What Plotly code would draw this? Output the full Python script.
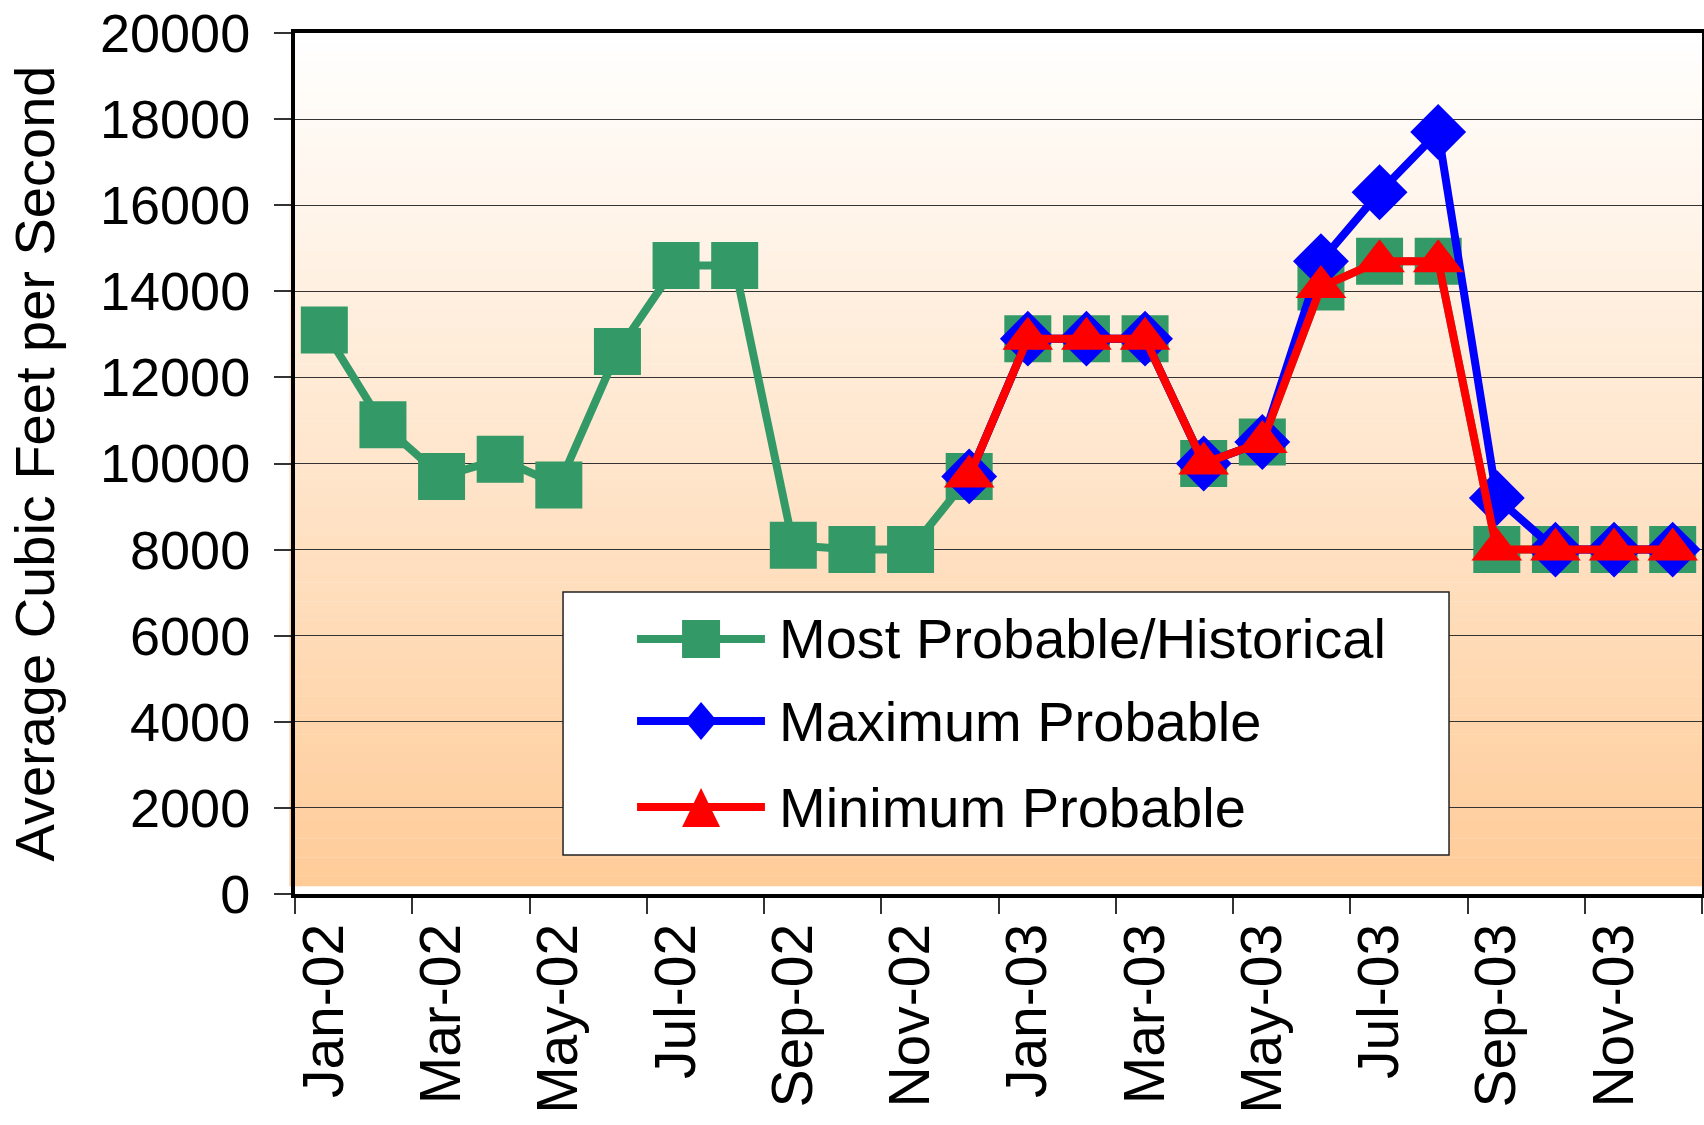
import plotly.graph_objects as go

# ---------------- data ----------------
months = ["Jan-02", "Feb-02", "Mar-02", "Apr-02", "May-02", "Jun-02",
          "Jul-02", "Aug-02", "Sep-02", "Oct-02", "Nov-02", "Dec-02",
          "Jan-03", "Feb-03", "Mar-03", "Apr-03", "May-03", "Jun-03",
          "Jul-03", "Aug-03", "Sep-03", "Oct-03", "Nov-03", "Dec-03"]

most_probable = [13100, 10900, 9700, 10100, 9500, 12600,
                 14600, 14600, 8100, 8000, 8000, 9700,
                 12900, 12900, 12900, 10000, 10500, 14100,
                 14700, 14700, 8000, 8000, 8000, 8000]

forecast_months = ["Dec-02", "Jan-03", "Feb-03", "Mar-03", "Apr-03", "May-03",
                   "Jun-03", "Jul-03", "Aug-03", "Sep-03", "Oct-03", "Nov-03", "Dec-03"]

maximum_probable = [9700, 12900, 12900, 12900, 10000, 10500,
                    14700, 16300, 17700, 9200, 8000, 8000, 8000]

minimum_probable = [9700, 12900, 12900, 12900, 10000, 10500,
                    14100, 14700, 14700, 8000, 8000, 8000, 8000]

series_names = ["Most Probable/Historical", "Maximum Probable", "Minimum Probable"]
y_ticks = list(range(0, 20001, 2000))
x_tick_labels = months[::2]

# category positions (index of each month on the category axis)
pos_all = [months.index(m) for m in months]
pos_fc = [months.index(m) for m in forecast_months]
pos_ticks = [months.index(m) for m in x_tick_labels]

# ---------------- style ----------------
GREEN = "#339966"
BLUE = "#0000FF"
RED = "#FF0000"
FONT = "Liberation Sans, Arial, sans-serif"

fig = go.Figure()

fig.add_trace(go.Scatter(
    x=pos_all, y=most_probable, name=series_names[0], mode="lines+markers",
    text=months, hovertemplate="%{text}: %{y}<extra>" + series_names[0] + "</extra>",
    line=dict(color=GREEN, width=8),
    marker=dict(symbol="square", size=47, color=GREEN, line=dict(width=0)),
    showlegend=False, cliponaxis=False))

fig.add_trace(go.Scatter(
    x=pos_fc, y=maximum_probable, name=series_names[1], mode="lines+markers",
    text=forecast_months, hovertemplate="%{text}: %{y}<extra>" + series_names[1] + "</extra>",
    line=dict(color=BLUE, width=8),
    marker=dict(symbol="diamond", size=43, color=BLUE, line=dict(width=0)),
    showlegend=False, cliponaxis=False))

fig.add_trace(go.Scatter(
    x=pos_fc, y=minimum_probable, name=series_names[2], mode="lines+markers",
    text=forecast_months, hovertemplate="%{text}: %{y}<extra>" + series_names[2] + "</extra>",
    line=dict(color=RED, width=8),
    marker=dict(symbol="triangle-up", size=44, color=RED, line=dict(width=0)),
    showlegend=False, cliponaxis=False))

shapes = []

# gradient plot background (white at top -> light orange at bottom)
N = 90
ybot = 0.009
for i in range(N):
    t = i / (N - 1)
    g = round(204 + (255 - 204) * t)
    b = round(153 + (255 - 153) * t)
    shapes.append(dict(
        type="rect", xref="paper", yref="paper", layer="below",
        x0=-0.004, x1=1.0,
        y0=ybot + (1 - ybot) * i / N, y1=ybot + (1 - ybot) * (i + 1) / N + 0.0005,
        fillcolor=f"rgb(255,{g},{b})", line=dict(width=0)))

# legend box drawn by hand (symbol sizes like the original)
LX0, LX1, LY0, LY1 = 0.1905, 0.8202, 0.0453, 0.3508
shapes.append(dict(type="rect", xref="paper", yref="paper", layer="above",
                   x0=LX0, x1=LX1, y0=LY0, y1=LY1,
                   fillcolor="white", line=dict(color="#222", width=1.5)))

row_y = [0.2962, 0.2009, 0.1010]
line_x0, line_x1, mark_x, text_x = 0.2431, 0.3340, 0.2886, 0.3426
colors = [GREEN, BLUE, RED]
paths = [
    "M -19 -19 L 19 -19 L 19 19 L -19 19 Z",
    "M 0 -19 L 16 0 L 0 19 L -16 0 Z",
    "M -19 -20 L 19 -20 L 0 19 Z",
]
annotations = []
for yy, col, pth, nm in zip(row_y, colors, paths, series_names):
    shapes.append(dict(type="line", xref="paper", yref="paper", layer="above",
                       x0=line_x0, x1=line_x1, y0=yy, y1=yy,
                       line=dict(color=col, width=8)))
    shapes.append(dict(type="path", xref="paper", yref="paper", layer="above",
                       xsizemode="pixel", ysizemode="pixel",
                       xanchor=mark_x, yanchor=yy, path=pth,
                       fillcolor=col, line=dict(width=0)))
    annotations.append(dict(xref="paper", yref="paper", x=text_x, y=yy,
                            xanchor="left", yanchor="middle", showarrow=False,
                            text=nm, font=dict(family=FONT, size=56, color="black")))

fig.update_layout(
    width=1704, height=1125,
    margin=dict(l=295, r=2, t=33, b=231),
    paper_bgcolor="white", plot_bgcolor="rgba(0,0,0,0)",
    font=dict(family=FONT, size=56, color="black"),
    shapes=shapes, annotations=annotations,
    showlegend=False,
    xaxis=dict(
        range=[-0.5, len(months) - 0.5],
        tickmode="array", tickvals=pos_ticks, ticktext=x_tick_labels,
        ticks="outside", ticklen=16, tickwidth=2, tickcolor="rgba(0,0,0,0)",
        ticklabelstandoff=-13,
        minor=dict(tickmode="linear", tick0=-0.5, dtick=2, ticks="outside",
                   ticklen=16, tickwidth=2, tickcolor="#333", showgrid=False),
        tickangle=-90, tickfont=dict(family=FONT, size=57, color="black"),
        showgrid=False, showline=True, linecolor="black", linewidth=4, mirror=True,
        zeroline=False, automargin=False),
    yaxis=dict(
        range=[0, 20000], tickmode="array", tickvals=y_ticks,
        ticktext=[str(v) for v in y_ticks],
        ticks="outside", ticklen=17, tickwidth=2, tickcolor="#333",
        ticklabelstandoff=13,
        tickfont=dict(family=FONT, size=54, color="black"),
        showgrid=True, gridcolor="#333", gridwidth=1.3,
        showline=True, linecolor="black", linewidth=4, mirror=True,
        zeroline=False, automargin=False,
        title=dict(text="Average Cubic Feet per Second", standoff=28,
                   font=dict(family=FONT, size=56, color="black"))),
)

fig.write_html("out.html", include_plotlyjs=True,
               config={"displayModeBar": False},
               post_script="document.body.style.margin='0';document.body.style.overflow='hidden';")
